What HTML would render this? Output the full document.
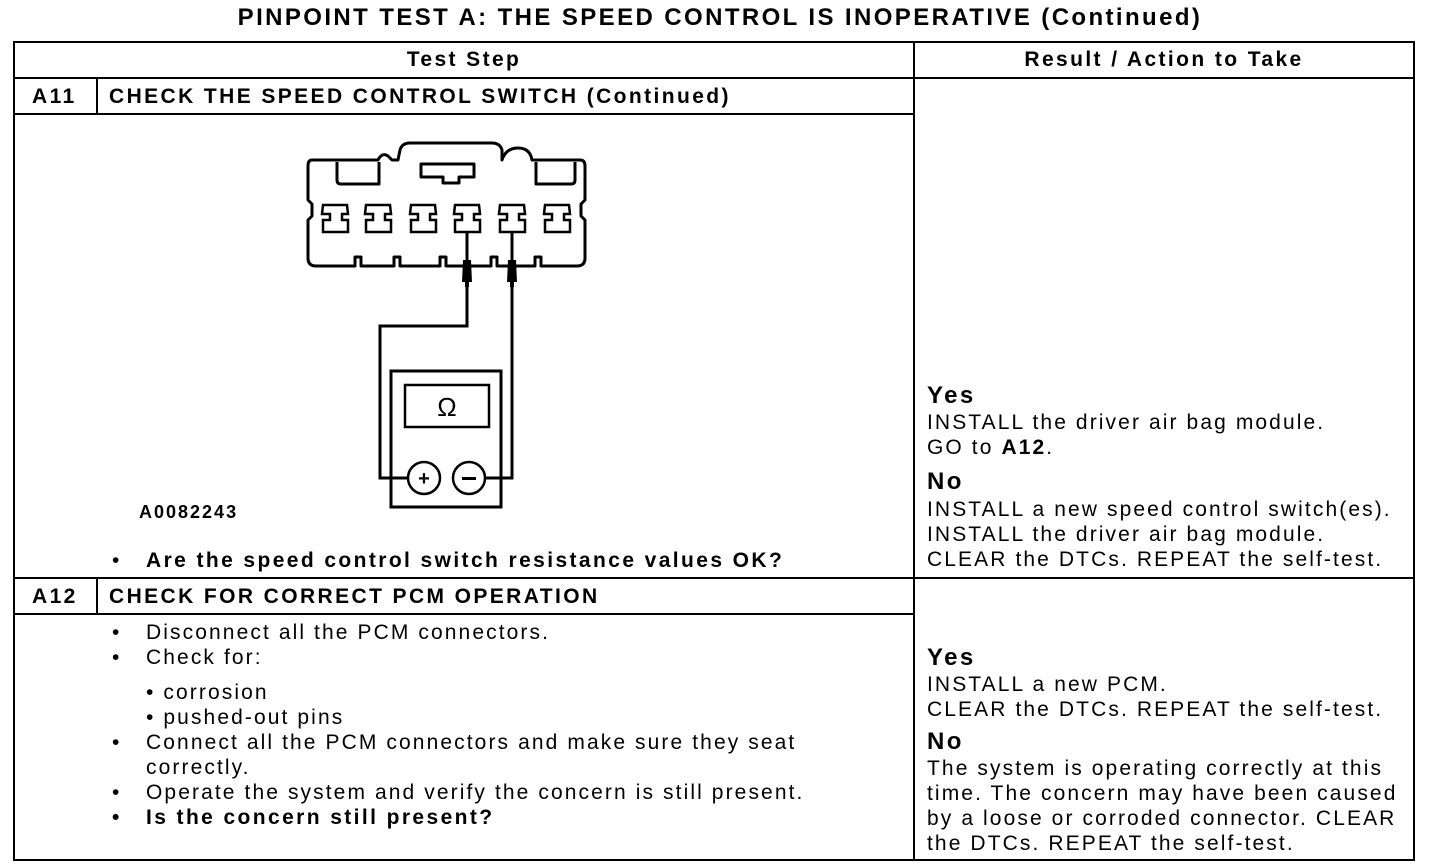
<!DOCTYPE html>
<html><head><meta charset="utf-8"><style>
body{margin:0;width:1440px;height:868px;background:#fff;position:relative;overflow:hidden;font-family:"Liberation Sans",Arial,sans-serif;color:#000}
.t{position:absolute;white-space:nowrap;font-size:21px;line-height:25px;letter-spacing:2.1px}
.b{font-weight:bold;letter-spacing:2.4px}
.l{position:absolute;background:#000}
</style></head><body>
<div class="t b" style="left:0;width:1440px;text-align:center;top:4px;font-size:24px;line-height:28px;letter-spacing:2.4px">PINPOINT TEST A: THE SPEED CONTROL IS INOPERATIVE (Continued)</div>
<div class="l" style="left:13px;top:41px;width:1402px;height:2px"></div>
<div class="l" style="left:13px;top:859px;width:1402px;height:2px"></div>
<div class="l" style="left:13px;top:41px;width:2px;height:820px"></div>
<div class="l" style="left:1413px;top:41px;width:2px;height:820px"></div>
<div class="l" style="left:913px;top:41px;width:2px;height:820px"></div>
<div class="l" style="left:13px;top:77px;width:1402px;height:2px"></div>
<div class="l" style="left:13px;top:113px;width:901px;height:2px"></div>
<div class="l" style="left:13px;top:577px;width:1402px;height:2px"></div>
<div class="l" style="left:13px;top:613px;width:901px;height:2px"></div>
<div class="l" style="left:96px;top:77px;width:2px;height:37px"></div>
<div class="l" style="left:96px;top:577px;width:2px;height:37px"></div>
<div class="t b" style="left:14px;width:900px;text-align:center;top:47px">Test Step</div>
<div class="t b" style="left:914px;width:500px;text-align:center;top:47px">Result / Action to Take</div>
<div class="t b" style="left:32px;top:84px">A11</div>
<div class="t b" style="left:109px;top:84px">CHECK THE SPEED CONTROL SWITCH (Continued)</div>
<div class="t b" style="left:32px;top:584px">A12</div>
<div class="t b" style="left:109px;top:584px">CHECK FOR CORRECT PCM OPERATION</div>
<svg style="position:absolute;left:0;top:0" width="1440" height="868">
<g fill="none" stroke="#000" stroke-width="3" stroke-linejoin="round">
<path d="M312,160 H378 Q382,152 388,156 L392,160 H398 L400,150 Q402,143 410,143 H492 Q500,143 502,150 V160 Q506,148 518,148 Q530,148 532,160 H580 Q585,160 585,166 V200 L581,204 V216 L585,220 V258 Q585,266 577,266 H541 V257 H535 V266 H497 V257 H491 V266 H446 V257 H440 V266 H400 V257 H394 V266 H361 V257 H355 V266 H316 Q308,266 308,258 V220 L312,216 V204 L308,200 V166 Q308,160 312,160 Z"/>
<path d="M337,162 V180 Q337,184 341,184 H379 V162"/>
<path d="M536,162 V184 H571 Q575,184 575,180 V162"/>
<path d="M421,164 H474 V177 H459 V183 H443 V177 H421 Z"/>
</g>
<g fill="none" stroke="#000" stroke-width="2.5">
<path d="M323,205 H347 L348,214 H342 V220 H348 V232 H323 V220 H330 V214 H322 Z"/>
<path d="M366,205 H390 L391,214 H385 V220 H391 V232 H366 V220 H373 V214 H365 Z"/>
<path d="M411,205 H435 L436,214 H430 V220 H436 V232 H411 V220 H418 V214 H410 Z"/>
<path d="M455,205 H479 L480,214 H474 V220 H480 V232 H455 V220 H462 V214 H454 Z"/>
<path d="M500,205 H524 L525,214 H519 V220 H525 V232 H500 V220 H507 V214 H499 Z"/>
<path d="M545,205 H569 L570,214 H564 V220 H570 V232 H545 V220 H552 V214 H544 Z"/>
</g>
<g stroke="#000" fill="none" stroke-width="3">
<path d="M467,232 V326 H380 V478 H408"/>
<path d="M512,232 V478 H485"/>
<rect x="391" y="371" width="110" height="136"/>
<rect x="405" y="385" width="84" height="42" stroke-width="2.5"/>
<circle cx="424" cy="478" r="16" stroke-width="2.5"/>
<circle cx="469" cy="478" r="16" stroke-width="2.5"/>
</g>
<path d="M463,260 H471 L472,282 H469 V287 H465 V282 H462 Z" fill="#000"/>
<path d="M508,260 H516 L517,282 H514 V287 H510 V282 H507 Z" fill="#000"/>
<text x="447" y="416" font-family="Liberation Sans,sans-serif" font-size="26" text-anchor="middle">Ω</text>
<text x="424" y="485" font-family="Liberation Sans,sans-serif" font-size="20" font-weight="bold" text-anchor="middle">+</text>
<rect x="462" y="477" width="14" height="3" fill="#000"/>
</svg>
<div class="t b" style="left:139px;top:500px;font-size:18px;letter-spacing:2px">A0082243</div>
<div class="t" style="left:112px;top:548px">•</div>
<div class="t b" style="left:146px;top:548px">Are the speed control switch resistance values OK?</div>
<div class="t b" style="left:927px;top:383px;font-size:24px">Yes</div>
<div class="t" style="left:927px;top:410px">INSTALL the driver air bag module.</div>
<div class="t" style="left:927px;top:435px">GO to <b>A12</b>.</div>
<div class="t b" style="left:927px;top:469px;font-size:24px">No</div>
<div class="t" style="left:927px;top:497px">INSTALL a new speed control switch(es).</div>
<div class="t" style="left:927px;top:522px">INSTALL the driver air bag module.</div>
<div class="t" style="left:927px;top:547px">CLEAR the DTCs. REPEAT the self-test.</div>
<div class="t" style="left:112px;top:620px">•</div><div class="t" style="left:146px;top:620px">Disconnect all the PCM connectors.</div>
<div class="t" style="left:112px;top:645px">•</div><div class="t" style="left:146px;top:645px">Check for:</div>
<div class="t" style="left:146px;top:680px">• corrosion</div>
<div class="t" style="left:146px;top:705px">• pushed-out pins</div>
<div class="t" style="left:112px;top:730px">•</div><div class="t" style="left:146px;top:730px">Connect all the PCM connectors and make sure they seat</div>
<div class="t" style="left:146px;top:755px">correctly.</div>
<div class="t" style="left:112px;top:780px">•</div><div class="t" style="left:146px;top:780px">Operate the system and verify the concern is still present.</div>
<div class="t b" style="left:112px;top:805px">•</div><div class="t b" style="left:146px;top:805px">Is the concern still present?</div>
<div class="t b" style="left:927px;top:645px;font-size:24px">Yes</div>
<div class="t" style="left:927px;top:672px">INSTALL a new PCM.</div>
<div class="t" style="left:927px;top:697px">CLEAR the DTCs. REPEAT the self-test.</div>
<div class="t b" style="left:927px;top:729px;font-size:24px">No</div>
<div class="t" style="left:927px;top:756px">The system is operating correctly at this</div>
<div class="t" style="left:927px;top:781px">time. The concern may have been caused</div>
<div class="t" style="left:927px;top:806px">by a loose or corroded connector. CLEAR</div>
<div class="t" style="left:927px;top:831px">the DTCs. REPEAT the self-test.</div>
</body></html>
